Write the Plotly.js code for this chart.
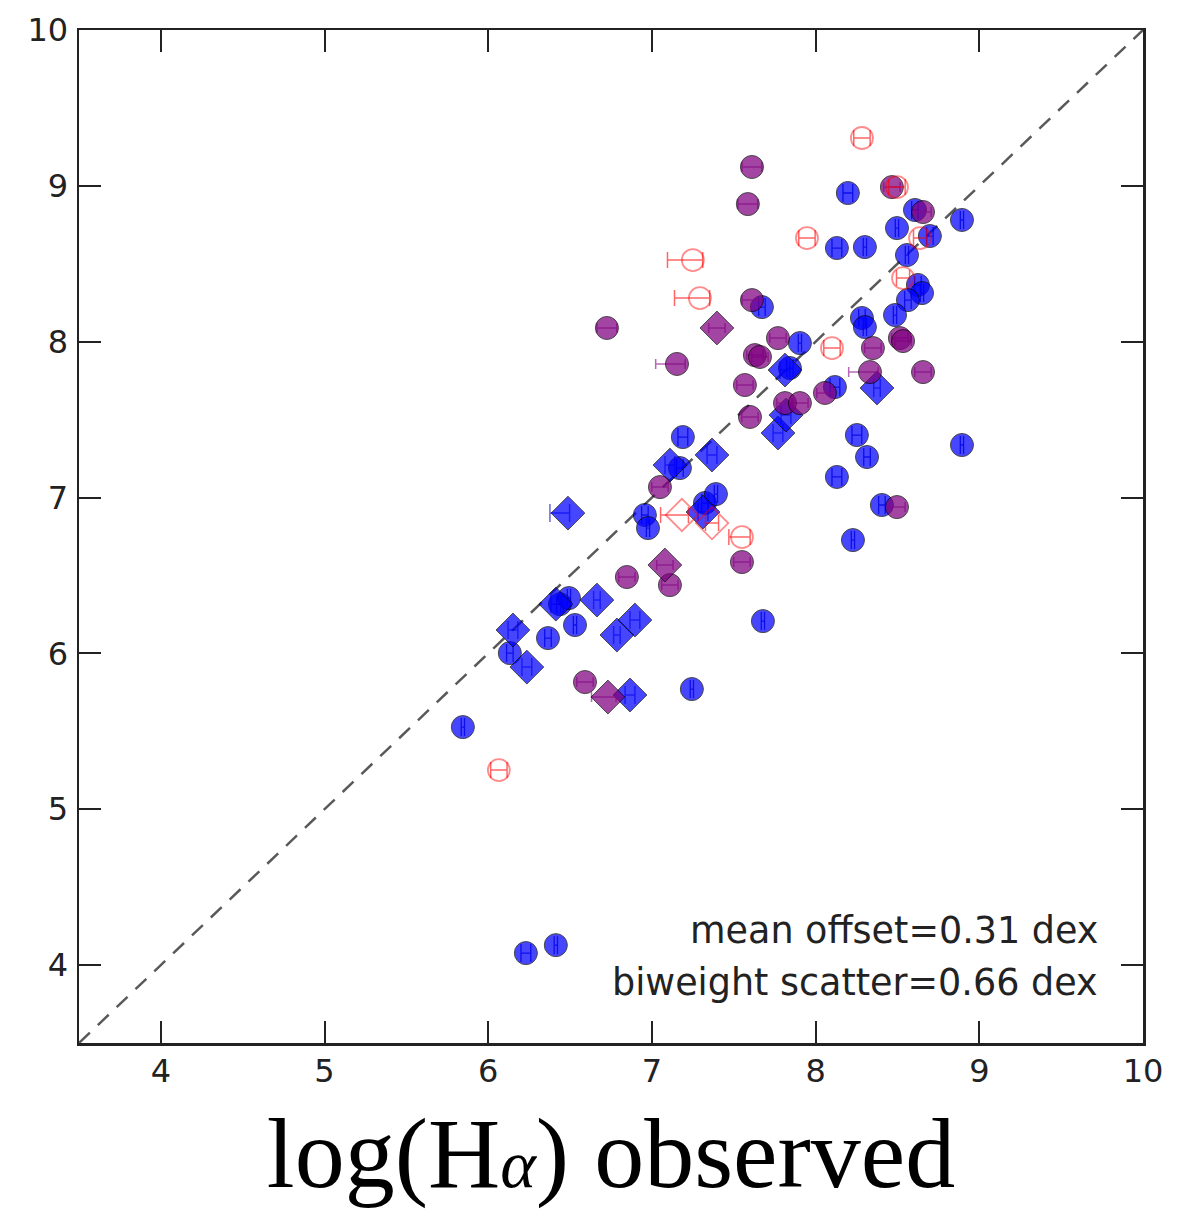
<!DOCTYPE html>
<html>
<head>
<meta charset="utf-8">
<script src="https://cdn.plot.ly/plotly-3.0.1.min.js"></script>
<style>html,body{margin:0;padding:0;background:#fff;}#chart{width:1193px;height:1217px;}</style>
</head>
<body>
<div id="chart"></div>
<script>
// Diagonal one-to-one line
const diagX = [3.5, 10];
const diagY = [3.5, 10];

// Blue circles
const blueCircX = [5.845,6.230,6.413,6.365,6.530,6.438,6.493,6.132,7.244,7.678,7.189,7.171,6.957,6.976,7.324,7.391,8.197,8.607,8.894,8.497,8.698,8.558,8.130,8.301,8.625,8.650,8.564,8.485,8.283,8.301,7.672,7.904,7.843,8.118,8.252,8.894,8.314,8.130,8.405,8.228];
const blueCircY = [5.527,4.077,4.128,6.098,6.182,6.316,6.355,6.002,5.771,6.207,7.388,7.189,6.888,6.804,6.965,7.022,8.954,8.845,8.781,8.729,8.678,8.556,8.601,8.607,8.364,8.312,8.267,8.171,8.152,8.094,8.222,7.991,7.831,7.709,7.401,7.337,7.260,7.132,6.952,6.727];
const blueCircErr = [0.01,0.03,0.01,0.02,0.01,0.02,0.01,0.02,0.01,0.01,0.03,0.02,0.02,0.01,0.02,0.01,0.03,0.02,0.01,0.01,0.02,0.01,0.03,0.01,0.02,0.01,0.02,0.01,0.02,0.01,0.02,0.01,0.02,0.03,0.03,0.01,0.02,0.03,0.02,0.01];

// Blue diamonds
const blueDiaX = [6.413,7.110,7.367,6.487,6.151,6.236,6.664,6.786,6.896,6.866,7.770,7.819,7.813,8.375,7.312];
const blueDiaY = [6.316,7.208,7.273,6.900,6.150,5.912,6.342,6.118,6.214,5.733,7.414,7.529,7.818,7.703,6.907];
const blueDiaErrMinus = [0.03,0.03,0.03,0.11,0.03,0.03,0.02,0.02,0.03,0.03,0.03,0.03,0.03,0.02,0.03];
const blueDiaErrPlus = [0.03,0.03,0.03,0.01,0.03,0.03,0.02,0.02,0.03,0.03,0.03,0.03,0.03,0.02,0.03];

// Purple circles
const purpCircX = [7.611,7.586,8.466,8.656,7.611,6.725,7.153,7.770,7.629,7.660,8.350,8.515,8.534,8.332,8.656,7.568,8.057,7.813,7.904,7.599,8.497,7.550,7.049,7.110,6.847,6.591];
const purpCircY = [9.121,8.883,8.992,8.832,8.267,8.088,7.857,8.023,7.914,7.902,7.959,8.023,8.004,7.805,7.805,7.722,7.671,7.606,7.606,7.517,6.939,6.586,7.067,6.438,6.490,5.816];
const purpCircErrMinus = [0.06,0.06,0.05,0.05,0.06,0.06,0.13,0.05,0.05,0.05,0.05,0.05,0.05,0.13,0.05,0.05,0.05,0.05,0.05,0.05,0.05,0.05,0.05,0.05,0.05,0.05];
const purpCircErrPlus = [0.06,0.06,0.05,0.05,0.06,0.06,0.05,0.05,0.05,0.05,0.05,0.05,0.05,0.05,0.05,0.05,0.05,0.05,0.05,0.05,0.05,0.05,0.05,0.05,0.05,0.05];

// Purple diamonds
const purpDiaX = [7.397,7.079,6.731];
const purpDiaY = [8.088,6.567,5.720];
const purpDiaErrMinus = [0.05,0.05,0.10];
const purpDiaErrPlus = [0.05,0.05,0.05];

// Red open circles
const redCircX = [8.283,8.497,8.638,7.947,7.250,7.293,8.534,8.100,7.550,6.065];
const redCircY = [9.307,8.992,8.665,8.665,8.524,8.280,8.408,7.959,6.746,5.251];
const redCircErrMinus = [0.05,0.05,0.04,0.05,0.155,0.155,0.04,0.05,0.08,0.05];
const redCircErrPlus = [0.05,0.05,0.04,0.05,0.06,0.06,0.04,0.05,0.05,0.05];

// Red open diamonds
const redDiaX = [7.183,7.367];
const redDiaY = [6.888,6.836];
const redDiaErrMinus = [0.13,0.04];
const redDiaErrPlus = [0.04,0.04];

// Axis ticks
const tickVals = [4,5,6,7,8,9,10];
const tickText = ['4','5','6','7','8','9','10'];

const statLines = ['mean offset=0.31 dex', 'biweight scatter=0.66 dex'];

const BLUE = 'rgb(0,0,255)';
const PURPLE = 'rgb(128,0,128)';
const RED = 'rgba(255,0,0,0.45)';

function errX(minus, plus, color, w) {
  return {type:'data', symmetric:false, array:plus, arrayminus:minus, color:color, thickness:1.5, width:w};
}

const traces = [
  {x:diagX, y:diagY, mode:'lines', line:{color:'rgba(0,0,0,0.65)', width:2.5, dash:'15px,11px'}, hoverinfo:'skip', showlegend:false},
  {x:blueCircX, y:blueCircY, mode:'markers', showlegend:false,
   marker:{symbol:'circle', size:23, color:BLUE, opacity:0.72, line:{color:'black', width:1}},
   error_x:{type:'data', array:blueCircErr, color:'rgba(0,0,160,0.8)', thickness:1.3, width:9}},
  {x:blueDiaX, y:blueDiaY, mode:'markers', showlegend:false,
   marker:{symbol:'diamond', size:26, color:BLUE, opacity:0.72, line:{color:'black', width:1}},
   error_x:errX(blueDiaErrMinus, blueDiaErrPlus, 'rgba(0,0,200,0.6)', 9)},
  {x:purpCircX, y:purpCircY, mode:'markers', showlegend:false,
   marker:{symbol:'circle', size:23, color:PURPLE, opacity:0.72, line:{color:'black', width:1}},
   error_x:errX(purpCircErrMinus, purpCircErrPlus, 'rgba(150,40,150,0.7)', 5)},
  {x:purpDiaX, y:purpDiaY, mode:'markers', showlegend:false,
   marker:{symbol:'diamond', size:26, color:PURPLE, opacity:0.72, line:{color:'black', width:1}},
   error_x:errX(purpDiaErrMinus, purpDiaErrPlus, 'rgba(150,40,150,0.7)', 5)},
  {x:redCircX, y:redCircY, mode:'markers', showlegend:false,
   marker:{symbol:'circle-open', size:22, color:RED, line:{color:RED, width:1.8}},
   error_x:errX(redCircErrMinus, redCircErrPlus, 'rgba(255,0,0,0.6)', 8)},
  {x:redDiaX, y:redDiaY, mode:'markers', showlegend:false,
   marker:{symbol:'diamond-open', size:25, color:RED, line:{color:RED, width:1.8}},
   error_x:errX(redDiaErrMinus, redDiaErrPlus, 'rgba(255,0,0,0.6)', 8)}
];

const axisCommon = {
  range:[3.5,10], tickmode:'array', tickvals:tickVals, ticktext:tickText,
  ticks:'inside', ticklen:22, tickwidth:2, tickcolor:'#222',
  showline:true, linecolor:'#222', linewidth:2.5, mirror:'allticks',
  showgrid:false, zeroline:false,
  tickfont:{family:'DejaVu Sans', size:32, color:'#222'}
};

const layout = {
  width:1193, height:1217,
  margin:{l:79, r:50, t:30, b:174},
  paper_bgcolor:'white', plot_bgcolor:'white',
  showlegend:false,
  xaxis:Object.assign({}, axisCommon, {
    title:{text:'log(H<span style="font-size:68px"><i>α</i></span>) observed', font:{family:'Liberation Serif', size:100, color:'black'}, standoff:28},
    ticklabelstandoff:-2
  }),
  yaxis:Object.assign({}, axisCommon, {ticklabelstandoff:2}),
  annotations:[
    {xref:'paper', yref:'paper', x:0.9596, y:0.1106, xanchor:'right', yanchor:'middle', text:statLines[0], showarrow:false, font:{family:'DejaVu Sans', size:36.5, color:'#222'}},
    {xref:'paper', yref:'paper', x:0.9596, y:0.0602, xanchor:'right', yanchor:'middle', text:statLines[1], showarrow:false, font:{family:'DejaVu Sans', size:36.5, color:'#222'}}
  ]
};

Plotly.newPlot('chart', traces, layout, {displayModeBar:false, staticPlot:true});
</script>
</body>
</html>
